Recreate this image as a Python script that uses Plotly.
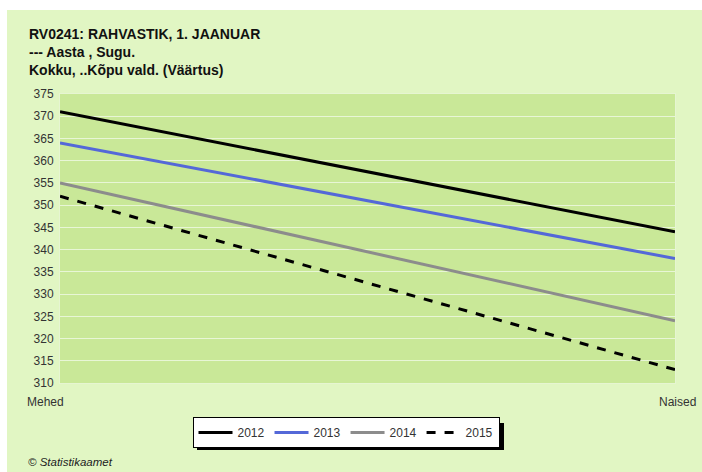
import plotly.graph_objects as go

kategooriad = ["Mehed", "Naised"]
aastad = ["2012", "2013", "2014", "2015"]
v2012 = [371, 344]
v2013 = [364, 338]
v2014 = [355, 324]
v2015 = [352, 313]
y_tikid = list(range(310, 376, 5))

W, H = 702, 472
L, R, T, B = 60, 675, 94, 383  # plot area in px
pw, ph = R - L, B - T

def px_x(x): return (x - L) / pw
def px_y(y): return (B - y) / ph

fig = go.Figure()
stiilid = [
    dict(color="#000000", width=3),
    dict(color="#5468d8", width=3),
    dict(color="#8c8c8c", width=3),
    dict(color="#000000", width=3, dash="dash"),
]
for nimi, vals, st in zip(aastad, [v2012, v2013, v2014, v2015], stiilid):
    fig.add_trace(go.Scatter(x=kategooriad, y=vals, mode="lines", name=nimi, line=st))

# white strips top and left (panel is the paper colour)
fig.add_shape(type="rect", xref="paper", yref="paper", x0=px_x(-5), x1=px_x(W + 5), y0=px_y(10), y1=px_y(-5),
              fillcolor="white", line_width=0, layer="below")
fig.add_shape(type="rect", xref="paper", yref="paper", x0=px_x(-5), x1=px_x(7), y0=px_y(H + 5), y1=px_y(-5),
              fillcolor="white", line_width=0, layer="below")
# legend shadow
fig.add_shape(type="rect", xref="paper", yref="paper", x0=px_x(197), x1=px_x(504), y0=px_y(450), y1=px_y(423),
              fillcolor="#000000", line_width=0, layer="below")

fig.add_annotation(xref="paper", yref="paper", x=px_x(27), y=px_y(24), xanchor="left", yanchor="top", align="left",
                   showarrow=False, font=dict(family="Liberation Sans, Arial", size=14, color="#111111"),
                   text="<b>RV0241: RAHVASTIK, 1. JAANUAR<br>--- Aasta , Sugu.<br>Kokku, ..Kõpu vald. (Väärtus)</b>")
fig.add_annotation(xref="paper", yref="paper", x=px_x(26), y=px_y(462), xanchor="left", yanchor="middle",
                   showarrow=False, font=dict(family="Liberation Sans, Arial", size=11.5, color="#222222"),
                   text="<i>© Statistikaamet</i>")
# category labels under the axis ends
for kat, nihe in zip(kategooriad, [-15, 2]):
    fig.add_annotation(x=kat, xref="x", yref="paper", y=px_y(402), yanchor="middle", xshift=nihe,
                       showarrow=False, text=kat, font=dict(size=12, color="#333333"))

fig.update_layout(
    width=W, height=H, paper_bgcolor="#e1f6c3", plot_bgcolor="#c9e898",
    margin=dict(l=L, r=W - R, t=T, b=H - B),
    font=dict(family="Liberation Sans, Arial", size=12, color="#333333"),
    showlegend=True,
    legend=dict(orientation="h", x=px_x(346), xanchor="center", y=px_y(417), yanchor="top",
                bgcolor="white", bordercolor="black", borderwidth=1, font=dict(size=12, color="#333333"),
                itemwidth=34, tracegroupgap=0),
    xaxis=dict(type="category", range=[0, 1], showgrid=False, zeroline=False, showline=True, linecolor="#e6f5d2",
               mirror=True, ticks="", showticklabels=False),
    yaxis=dict(range=[310, 375], tickvals=y_tikid, showgrid=True, gridcolor="#e8f6d6", gridwidth=1, zeroline=False,
               showline=True, linecolor="#e6f5d2", mirror=True, ticks="", tickfont=dict(size=12), ticklabelstandoff=3),
)

fig.write_html("out.html", config={"displayModeBar": False}, post_script="document.body.style.margin='0';")
